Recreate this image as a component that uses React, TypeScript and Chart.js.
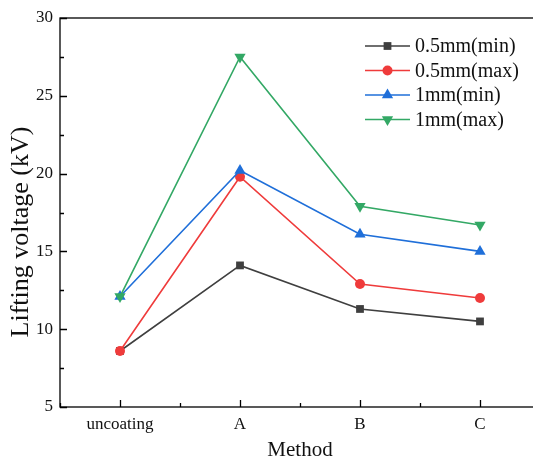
import React, { useEffect, useRef } from "react";
import { Chart, registerables } from "chart.js";
Chart.register(...registerables);

const categories = ["uncoating", "A", "B", "C"];
const seriesNames = ["0.5mm(min)", "0.5mm(max)", "1mm(min)", "1mm(max)"];
const min05 = [8.6, 14.1, 11.3, 10.5];
const max05 = [8.6, 19.8, 12.9, 12.0];
const min1 = [12.1, 20.2, 16.1, 15.0];
const max1 = [12.1, 27.5, 17.9, 16.7];
const seriesValues = [min05, max05, min1, max1];
const seriesColors = ["#3f3f3f", "#ef3b3b", "#1f6fd9", "#33a865"];
const seriesStyles = ["rect", "circle", "triangle", "triangle"];
const seriesRotation = [0, 0, 0, 180];
const seriesRadius = [5.5, 5, 6.5, 6.5];

const FONT = "'Liberation Serif', 'Times New Roman', serif";

function drawMarker(ctx, style, rot, r, x, y, color) {
  ctx.save();
  ctx.fillStyle = color;
  ctx.translate(x, y);
  ctx.rotate((rot * Math.PI) / 180);
  ctx.beginPath();
  if (style === "rect") {
    const s = r * Math.SQRT1_2;
    ctx.rect(-s, -s, 2 * s, 2 * s);
  } else if (style === "circle") {
    ctx.arc(0, 0, r, 0, Math.PI * 2);
  } else {
    const h = (r * 3) / 2;
    const w = r * Math.sqrt(3);
    ctx.moveTo(0, -r);
    ctx.lineTo(w / 2, -r + h);
    ctx.lineTo(-w / 2, -r + h);
    ctx.closePath();
  }
  ctx.fill();
  ctx.restore();
}

const framePlugin = {
  id: "frame",
  beforeDatasetsDraw(chart) {
    const { ctx, chartArea: a, scales } = chart;
    ctx.save();
    ctx.strokeStyle = "#000";
    ctx.lineWidth = 1.3;
    ctx.strokeRect(a.left, a.top, a.right - a.left, a.bottom - a.top);
    ctx.beginPath();
    scales.x.ticks.forEach((t) => {
      const px = Math.round(scales.x.getPixelForValue(t.value)) + 0.5;
      const len = Number.isInteger(t.value) ? 7 : 4;
      ctx.moveTo(px, a.bottom);
      ctx.lineTo(px, a.bottom - len);
    });
    scales.y.ticks.forEach((t) => {
      const py = Math.round(scales.y.getPixelForValue(t.value)) + 0.5;
      const len = t.value % 5 === 0 ? 7 : 4;
      ctx.moveTo(a.left, py);
      ctx.lineTo(a.left + len, py);
    });
    ctx.stroke();
    ctx.restore();
  },
};

const legendPlugin = {
  id: "customLegend",
  afterDraw(chart) {
    const { ctx } = chart;
    const x0 = 365;
    const y0 = 46;
    const row = 24.5;
    ctx.save();
    chart.data.datasets.forEach((ds, i) => {
      const y = y0 + i * row;
      ctx.strokeStyle = seriesColors[i];
      ctx.lineWidth = 1.5;
      ctx.beginPath();
      ctx.moveTo(x0, y);
      ctx.lineTo(x0 + 45, y);
      ctx.stroke();
      drawMarker(ctx, seriesStyles[i], seriesRotation[i], seriesRadius[i], x0 + 22.5, y, seriesColors[i]);
      ctx.fillStyle = "#111";
      ctx.font = `20px ${FONT}`;
      ctx.textBaseline = "middle";
      ctx.textAlign = "left";
      ctx.fillText(ds.label, x0 + 50, y + 1);
    });
    ctx.restore();
  },
};

export default function App() {
  const ref = useRef(null);
  useEffect(() => {
    const datasets = seriesNames.map((name, i) => ({
      label: name,
      data: seriesValues[i].map((v, j) => ({ x: j, y: v })),
      borderColor: seriesColors[i],
      backgroundColor: seriesColors[i],
      borderWidth: 1.6,
      pointStyle: seriesStyles[i],
      rotation: seriesRotation[i],
      pointRadius: seriesRadius[i],
      pointBorderWidth: 0,
      pointBackgroundColor: seriesColors[i],
      order: seriesNames.length - 1 - i,
      tension: 0,
    }));
    const chart = new Chart(ref.current, {
      type: "line",
      data: { datasets },
      options: {
        animation: false,
        responsive: false,
        layout: { padding: { left: 0, top: 18, right: 20, bottom: 0 } },
        plugins: { legend: { display: false }, tooltip: { enabled: false } },
        scales: {
          x: {
            type: "linear",
            min: -0.5,
            max: 3.5,
            afterFit: (s) => { s.height = 52; },
            grid: { display: false, drawTicks: false },
            border: { display: false },
            ticks: {
              stepSize: 0.5,
              autoSkip: false,
              maxRotation: 0,
              padding: 7,
              color: "#111",
              font: { family: FONT, size: 17 },
              callback: (v) => (Number.isInteger(v) && categories[v] !== undefined ? categories[v] : ""),
            },
            title: {
              display: true,
              text: "Method",
              color: "#111",
              font: { family: FONT, size: 21, lineHeight: 0.8 },
              padding: { top: 0, bottom: 0 },
            },
          },
          y: {
            min: 5,
            max: 30,
            afterFit: (s) => { s.width = 60; },
            grid: { display: false, drawTicks: false },
            border: { display: false },
            ticks: {
              stepSize: 2.5,
              autoSkip: false,
              padding: 7,
              color: "#111",
              font: { family: FONT, size: 17 },
              callback: (v) => (v % 5 === 0 ? String(v) : ""),
            },
            title: {
              display: true,
              text: "Lifting voltage (kV)      ",
              color: "#111",
              font: { family: FONT, size: 26 },
              padding: { top: 6, bottom: 0 },
            },
          },
        },
      },
      plugins: [framePlugin, legendPlugin],
    });
    return () => chart.destroy();
  }, []);
  return (
    <div style={{ position: "fixed", left: 0, top: 0, width: 533, height: 459, overflow: "hidden", background: "#fff" }}>
      <canvas ref={ref} width={560} height={459} style={{ display: "block" }} />
    </div>
  );
}
